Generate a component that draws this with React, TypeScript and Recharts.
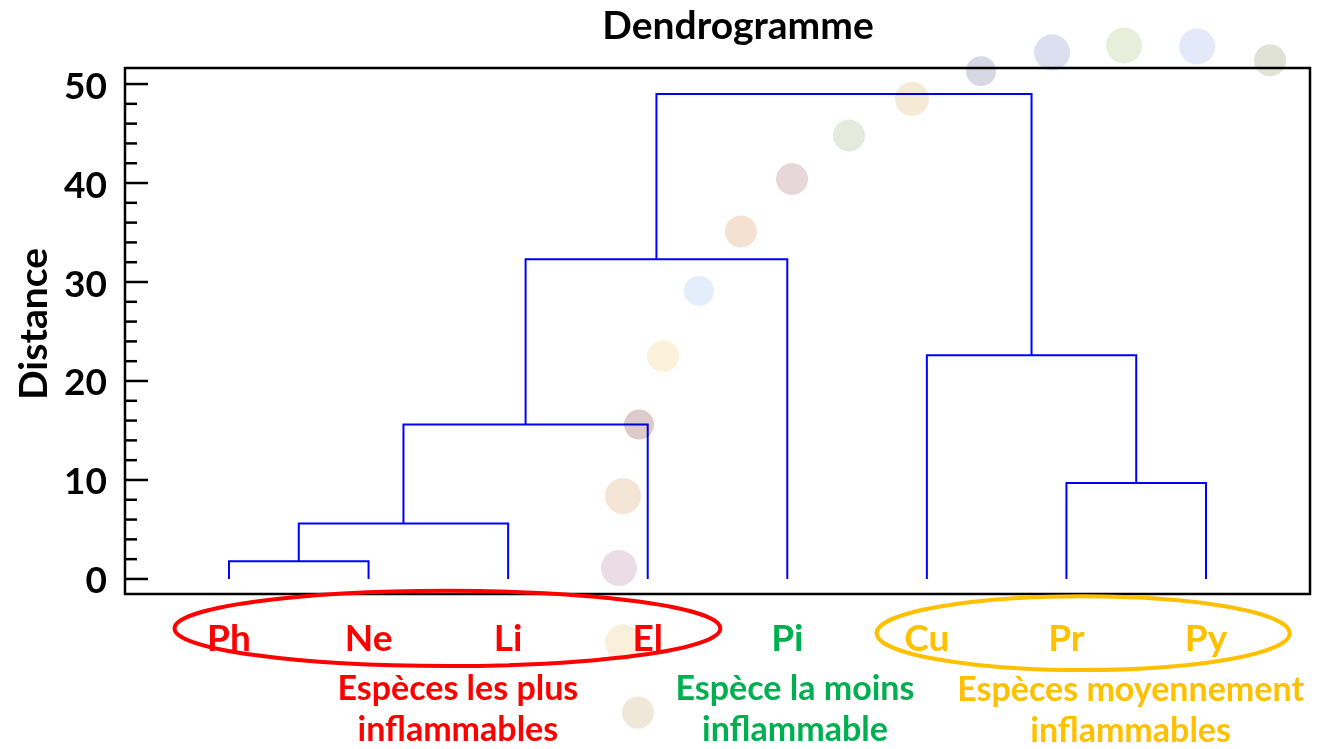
import React from "react"
import { ComposedChart, Line, XAxis, YAxis, ReferenceArea, ReferenceDot, Label } from "recharts"

const species = ["Ph", "Ne", "Li", "El", "Pi", "Cu", "Pr", "Py"]
const speciesColors = ["#ff0000", "#ff0000", "#ff0000", "#ff0000", "#00b050", "#ffc000", "#ffc000", "#ffc000"]

// linkage: nodes 0-7 are leaves, 8+ are clusters in merge order
const mergeA = [0, 8, 9, 10, 6, 5, 11]
const mergeB = [1, 2, 3, 4, 7, 12, 13]
const mergeHeight = [1.8, 5.6, 15.6, 32.3, 9.7, 22.6, 49.0]

const yTicks = [0, 2, 4, 6, 8, 10, 12, 14, 16, 18, 20, 22, 24, 26, 28, 30, 32, 34, 36, 38, 40, 42, 44, 46, 48, 50]

// group ellipses around tick labels
const groupX1 = [-0.39, 4.64]
const groupX2 = [3.52, 7.6]
const groupY1 = [-1.2, -1.75]
const groupY2 = [-8.8, -9.2]
const groupColors = ["#ff0000", "#ffc000"]

const captionLine1 = ["Espèces les plus", "Espèce la moins", "Espèces moyennement"]
const captionLine2 = ["inflammables", "inflammable", "inflammables"]
const captionX = [1.64, 4.055, 6.46]
const captionY = [-10.9, -10.9, -11.0]
const captionColors = ["#ff0000", "#00b050", "#ffc000"]

// faded decorative bubbles
const bubbleX = [2.794, 2.823, 2.938, 3.11, 3.367, 3.668, 4.034, 4.442, 4.894, 5.388, 5.897, 6.413, 6.936, 7.459, 2.823, 2.93]
const bubbleY = [1.1, 8.38, 15.6, 22.5, 29.1, 35.1, 40.4, 44.8, 48.5, 51.3, 53.2, 53.9, 53.8, 52.4, -6.4, -13.5]
const bubbleR = [18, 18, 15, 16, 15, 16, 16, 16, 17, 15, 18, 18, 18, 16, 18, 16]
const bubbleColors = [
  "#eadde5", "#f4e5d6", "#ddcbcc", "#fcf1da", "#e4eefa", "#f4e1d2", "#e8d7da", "#e5ebdc",
  "#f4ead5", "#d8d8e4", "#dcdfef", "#e7eeda", "#e3e9f8", "#e0e2d5", "#f9efda", "#efe8d9",
]

const X_DOMAIN: [number, number] = [-0.745, 7.745]
const Y_DOMAIN: [number, number] = [-1.52, 51.62]

type Pt = { x: number; y: number }

function buildLinks() {
  const nodeX: number[] = species.map((_, i) => i)
  const nodeH: number[] = species.map(() => 0)
  const links: Pt[][] = []
  mergeA.forEach((a, i) => {
    const b = mergeB[i]
    const h = mergeHeight[i]
    links.push([
      { x: nodeX[a], y: nodeH[a] },
      { x: nodeX[a], y: h },
      { x: nodeX[b], y: h },
      { x: nodeX[b], y: nodeH[b] },
    ])
    nodeX.push((nodeX[a] + nodeX[b]) / 2)
    nodeH.push(h)
  })
  return links
}

const links = buildLinks()

const LeftTick = (props: any) => {
  const { x, y, payload } = props
  const major = payload.value % 10 === 0
  return (
    <g>
      <line x1={x} x2={x + (major ? 23 : 12)} y1={y} y2={y} stroke="#000" strokeWidth={2.5} />
      {major && (
        <text x={x - 18} y={y} textAnchor="end" dominantBaseline="central" fontSize={37} fontWeight="bold" fill="#000">
          {payload.value}
        </text>
      )}
    </g>
  )
}

const RightTick = (props: any) => {
  const { x, y, payload } = props
  const major = payload.value % 10 === 0
  return <line x1={x} x2={x - (major ? 23 : 12)} y1={y} y2={y} stroke="#000" strokeWidth={2.5} />
}

const SpeciesTick = (props: any) => {
  const { x, y, payload } = props
  return (
    <text x={x} y={y + 42} textAnchor="middle" dominantBaseline="central" fontSize={37} fontWeight="bold" fill={speciesColors[payload.value]}>
      {species[payload.value]}
    </text>
  )
}

const DistanceLabel = (props: any) => {
  const vb = props.viewBox
  const cx = vb.x + 32
  const cy = vb.y + vb.height / 2 - 7
  return (
    <text x={cx} y={cy} transform={`rotate(-90, ${cx}, ${cy})`} textAnchor="middle" dominantBaseline="central" fontSize={39} fontWeight="bold" fill="#000">
      Distance
    </text>
  )
}

export default function App() {
  return (
    <div style={{ position: "absolute", left: 0, top: 0, width: 1317, height: 749, background: "#fff", fontFamily: "Lato, 'Open Sans', sans-serif" }}>
      <div style={{ position: "absolute", left: 738, top: 1, transform: "translateX(-50%)", fontSize: 39, fontWeight: "bold", lineHeight: "46px", whiteSpace: "nowrap", color: "#000" }}>
        Dendrogramme
      </div>
      <ComposedChart width={1317} height={749} margin={{ top: 68, right: 7, bottom: 0, left: 0 }}>
        <XAxis
          type="number"
          dataKey="x"
          domain={X_DOMAIN}
          allowDataOverflow
          ticks={[0, 1, 2, 3, 4, 5, 6, 7]}
          interval={0}
          tick={<SpeciesTick />}
          tickLine={false}
          tickSize={0}
          tickMargin={0}
          axisLine={false}
          height={155}
        />
        <YAxis
          type="number"
          domain={Y_DOMAIN}
          allowDataOverflow
          ticks={yTicks}
          interval={0}
          tick={<LeftTick />}
          tickLine={false}
          tickSize={0}
          tickMargin={0}
          axisLine={false}
          width={125}
        >
          <Label content={<DistanceLabel />} />
        </YAxis>
        <YAxis
          yAxisId="r"
          orientation="right"
          type="number"
          domain={Y_DOMAIN}
          allowDataOverflow
          ticks={yTicks}
          interval={0}
          tick={<RightTick />}
          tickLine={false}
          tickSize={0}
          tickMargin={0}
          axisLine={false}
          width={0}
        />
        <ReferenceArea
          x1={X_DOMAIN[0]}
          x2={X_DOMAIN[1]}
          y1={Y_DOMAIN[0]}
          y2={Y_DOMAIN[1]}
          fill="none"
          fillOpacity={0}
          stroke="#000"
          strokeWidth={2.5}
          ifOverflow="visible"
        />
        {groupX1.map((gx, i) => (
          <ReferenceArea
            key={`g${i}`}
            x1={gx}
            x2={groupX2[i]}
            y1={groupY1[i]}
            y2={groupY2[i]}
            ifOverflow="visible"
            shape={(p: any) => (
              <ellipse
                cx={p.x + p.width / 2}
                cy={p.y + p.height / 2}
                rx={Math.abs(p.width) / 2}
                ry={Math.abs(p.height) / 2}
                fill="none"
                stroke={groupColors[i]}
                strokeWidth={4}
              />
            )}
          />
        ))}
        {captionX.map((cx, i) => (
          <ReferenceDot
            key={`c${i}`}
            x={cx}
            y={captionY[i]}
            r={1}
            ifOverflow="visible"
            shape={(p: any) => (
              <g>
                <text x={p.cx} y={p.cy} textAnchor="middle" dominantBaseline="central" fontSize={34} fontWeight="bold" fill={captionColors[i]}>
                  {captionLine1[i]}
                </text>
                <text x={p.cx} y={p.cy + 41} textAnchor="middle" dominantBaseline="central" fontSize={34} fontWeight="bold" fill={captionColors[i]}>
                  {captionLine2[i]}
                </text>
              </g>
            )}
          />
        ))}
        {links.map((link, i) => (
          <Line
            key={`l${i}`}
            data={link}
            dataKey="y"
            type="linear"
            stroke="#0000ff"
            strokeWidth={2}
            dot={false}
            activeDot={false}
            isAnimationActive={false}
          />
        ))}
        {bubbleX.map((bx, i) => (
          <ReferenceDot
            key={`b${i}`}
            x={bx}
            y={bubbleY[i]}
            r={bubbleR[i]}
            ifOverflow="visible"
            shape={(p: any) => (
              <circle cx={p.cx} cy={p.cy} r={bubbleR[i]} fill={bubbleColors[i]} style={{ mixBlendMode: "multiply" }} />
            )}
          />
        ))}
      </ComposedChart>
    </div>
  )
}
